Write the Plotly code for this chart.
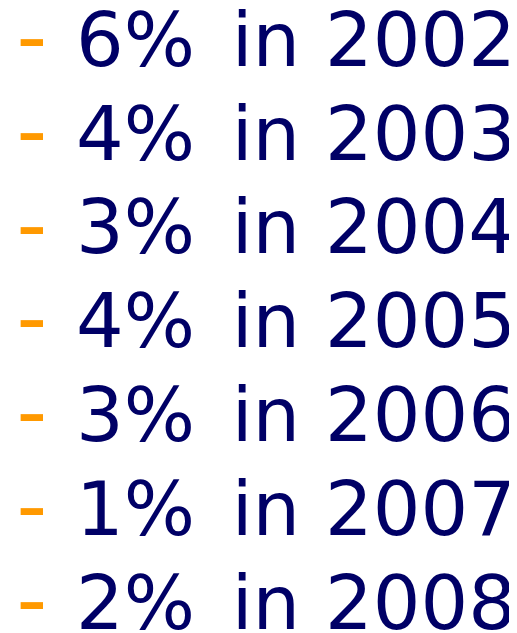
import plotly.graph_objects as go

years = [2002, 2003, 2004, 2005, 2006, 2007, 2008]
pcts = [6, 4, 3, 4, 3, 1, 2]

pct_labels = [f"{p}%" for p in pcts]
in_labels = ["in"] * len(years)
year_labels = [str(y) for y in years]
dash_labels = ["-"] * len(years)

NAVY = "#000066"
ORANGE = "#FF9900"
FONT = "DejaVu Sans"
SIZE = 75

# column anchor positions (pixels, since x axis spans 0..517)
X_DASH, X_PCT, X_IN, X_YEAR = 8.5, 68, 223.7, 317


def col(xpos, labels, color, size, yaxis="y"):
    return go.Scatter(
        x=[xpos] * len(years), y=years, text=labels, mode="text",
        textposition="middle right", yaxis=yaxis, cliponaxis=False,
        textfont=dict(family=FONT, size=size, color=color),
        hoverinfo="skip", showlegend=False,
    )


fig = go.Figure()
fig.add_trace(col(X_DASH, dash_labels, ORANGE, 85, yaxis="y2"))
fig.add_trace(col(X_PCT, pct_labels, NAVY, SIZE))
fig.add_trace(col(X_IN, in_labels, NAVY, SIZE))
fig.add_trace(col(X_YEAR, year_labels, NAVY, SIZE))

fig.update_layout(
    width=517, height=633, margin=dict(l=0, r=0, t=0, b=0),
    paper_bgcolor="white", plot_bgcolor="white", showlegend=False,
    xaxis=dict(range=[0, 517], visible=False, fixedrange=True),
    yaxis=dict(range=[2008.333, 2001.584], visible=False, fixedrange=True),
    yaxis2=dict(range=[2008.357, 2001.609], visible=False, fixedrange=True,
                overlaying="y"),
)
fig.write_html("out.html", config={"displayModeBar": False})
